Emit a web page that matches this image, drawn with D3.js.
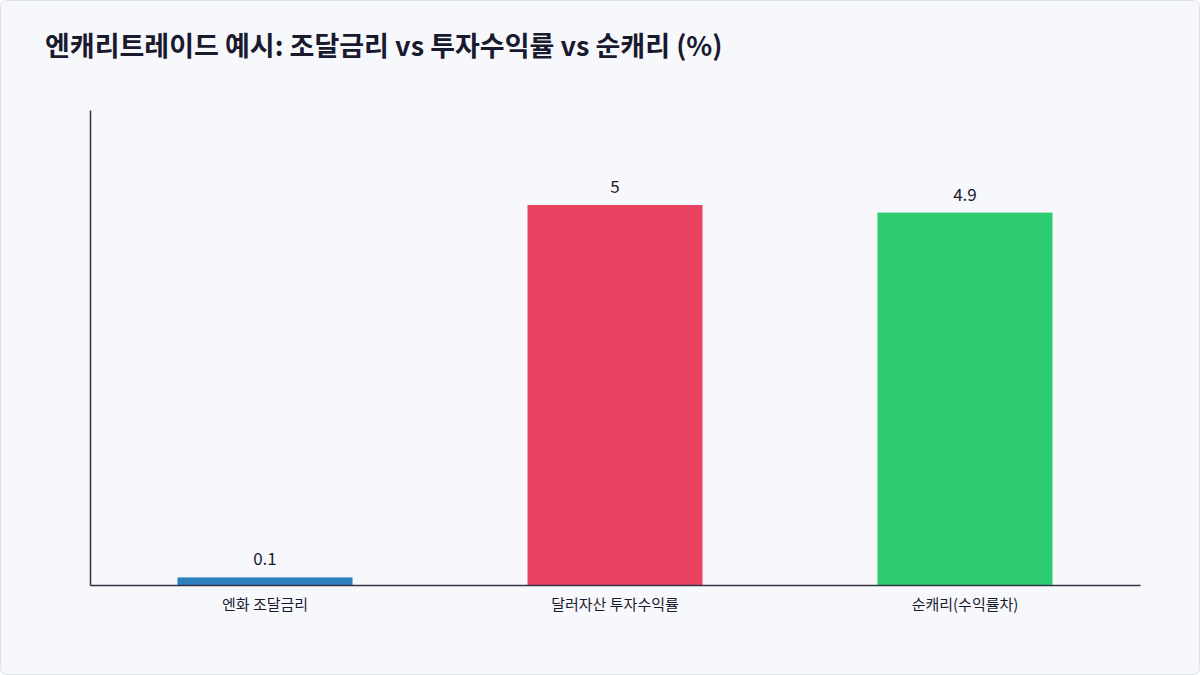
<!DOCTYPE html>
<html><head><meta charset="utf-8">
<script src="https://cdn.jsdelivr.net/npm/d3@7"></script>
<style>
body{margin:0;background:#fff;font-family:"Noto Sans CJK KR","Noto Sans",sans-serif;}
</style></head>
<body>
<svg id="chart" width="1200" height="675"></svg>
<script>
var categories = ["엔화 조달금리", "달러자산 투자수익률", "순캐리(수익률차)"];
var values = [0.1, 5, 4.9];
var colors = ["#2f80be", "#e84461", "#2ecc71"];

var svg = d3.select("#chart");
svg.append("rect").attr("x", 0.5).attr("y", 0.5).attr("width", 1199).attr("height", 674)
	.attr("rx", 6).attr("fill", "#f7f8fc").attr("stroke", "#dde1e8");

svg.append("text").attr("x", 45).attr("y", 56)
	.attr("font-size", 27).attr("font-weight", 700).attr("fill", "#1a1a2e")
	.text("엔캐리트레이드 예시: 조달금리 vs 투자수익률 vs 순캐리 (%)");

var plotLeft = 90, plotRight = 1140, plotTop = 110, plotBottom = 585;
var x = d3.scaleBand().domain(categories).range([plotLeft, plotRight]).paddingInner(0.5).paddingOuter(0.25);
var y = d3.scaleLinear().domain([0, 6.25]).range([plotBottom, plotTop]);

svg.selectAll(".bar").data(values).enter().append("rect")
	.attr("x", function(d, i) { return x(categories[i]); })
	.attr("y", function(d) { return y(d); })
	.attr("width", x.bandwidth())
	.attr("height", function(d) { return plotBottom - y(d); })
	.attr("fill", function(d, i) { return colors[i]; });

svg.selectAll(".lbl").data(values).enter().append("text")
	.attr("x", function(d, i) { return x(categories[i]) + x.bandwidth() / 2; })
	.attr("y", function(d) { return y(d) - 12; })
	.attr("text-anchor", "middle").attr("font-size", 17).attr("fill", "#1a1a2e")
	.text(function(d) { return d; });

var xa = svg.append("g").attr("transform", "translate(0," + plotBottom + ")")
	.call(d3.axisBottom(x).tickSize(0).tickPadding(14));
xa.select(".domain").attr("stroke", "#333344").attr("stroke-width", 1.5);
xa.selectAll("text").attr("font-size", 15).attr("fill", "#1a1a2e")
	.attr("font-family", "'Noto Sans CJK KR', sans-serif");

var ya = svg.append("g").attr("transform", "translate(" + plotLeft + ",0)")
	.call(d3.axisLeft(y).ticks(0).tickSize(0));
ya.selectAll(".tick").remove();
ya.select(".domain").attr("stroke", "#333344").attr("stroke-width", 1.5);
</script>
</body></html>
